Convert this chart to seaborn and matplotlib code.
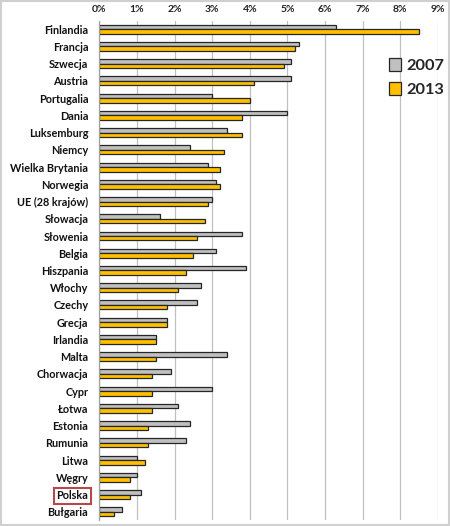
import numpy as np
import pandas as pd
import matplotlib
matplotlib.use('Agg')
import matplotlib.pyplot as plt
import seaborn as sns
from matplotlib.patches import Rectangle, Patch

countries = ['Finlandia', 'Francja', 'Szwecja', 'Austria', 'Portugalia', 'Dania',
             'Luksemburg', 'Niemcy', 'Wielka Brytania', 'Norwegia', 'UE (28 krajów)',
             'Słowacja', 'Słowenia', 'Belgia', 'Hiszpania', 'Włochy', 'Czechy',
             'Grecja', 'Irlandia', 'Malta', 'Chorwacja', 'Cypr', 'Łotwa', 'Estonia',
             'Rumunia', 'Litwa', 'Węgry', 'Polska', 'Bułgaria']
val_2007 = [6.3, 5.3, 5.1, 5.1, 3.0, 5.0, 3.4, 2.4, 2.9, 3.1, 3.0, 1.6, 3.8, 3.1,
            3.9, 2.7, 2.6, 1.8, 1.5, 3.4, 1.9, 3.0, 2.1, 2.4, 2.3, 1.0, 1.0, 1.1, 0.6]
val_2013 = [8.5, 5.2, 4.9, 4.1, 4.0, 3.8, 3.8, 3.3, 3.2, 3.2, 2.9, 2.8, 2.6, 2.5,
            2.3, 2.1, 1.8, 1.8, 1.5, 1.5, 1.4, 1.4, 1.4, 1.3, 1.3, 1.2, 0.8, 0.8, 0.4]
years = ['2007', '2013']
tick_vals = list(range(0, 10))
tick_labels = [str(t) + '%' for t in tick_vals]

df = pd.DataFrame({'kraj': countries * 2,
                   'wartosc': val_2007 + val_2013,
                   'rok': [years[0]] * len(countries) + [years[1]] * len(countries)})

sns.set_style('white')
plt.rcParams['font.family'] = ['Lato', 'DejaVu Sans']

kolory = {'2007': '#C0C0C0', '2013': '#FFC000'}

fig = plt.figure(figsize=(4.5, 5.26), dpi=100)
ax = fig.add_axes([0.221, 0.0105, 0.752, 0.9505])

sns.barplot(data=df, x='wartosc', y='kraj', hue='rok', order=countries,
            palette=kolory, saturation=1, orient='h', width=0.52, edgecolor='#262626',
            linewidth=0.9, ax=ax, legend=False)

ax.set_xlim(0, 9)
ax.set_xticks(tick_vals)
ax.set_xticklabels(tick_labels, fontsize=7.5, fontweight='bold')
ax.xaxis.tick_top()
ax.tick_params(axis='x', length=0, pad=5, colors='#222222')
ax.tick_params(axis='y', length=0, pad=8, colors='#111111')
ax.set_xlabel('')
ax.set_ylabel('')
for lab in ax.get_yticklabels():
    lab.set_fontsize(7.8)
    lab.set_fontweight('bold')
    if lab.get_text() == 'Polska':
        lab.set_bbox(dict(facecolor='none', edgecolor='#B5494A', linewidth=1.5, pad=1.8))

ax.grid(axis='x', color='#c0c0c0', linewidth=0.9)
ax.set_axisbelow(True)
for s in ['top', 'right', 'bottom']:
    ax.spines[s].set_visible(False)
ax.spines['left'].set_color('#a0a0a0')
ax.spines['left'].set_linewidth(0.9)

handles = [Patch(facecolor=kolory[y], edgecolor='#262626', linewidth=0.9, label=y) for y in years]
ax.legend(handles=handles, loc='upper left', bbox_to_anchor=(0.855, 0.926), frameon=False,
          prop={'size': 11.8, 'weight': 'bold'}, handlelength=0.75, handleheight=0.85,
          handletextpad=0.3, labelspacing=0.55, borderaxespad=0, borderpad=0)

fig.patches.append(Rectangle((0.002, 0.002), 0.996, 0.996, transform=fig.transFigure,
                             fill=False, edgecolor='#d0d0d0', linewidth=1.5))

plt.savefig('out.png', dpi=100)
plt.close()
